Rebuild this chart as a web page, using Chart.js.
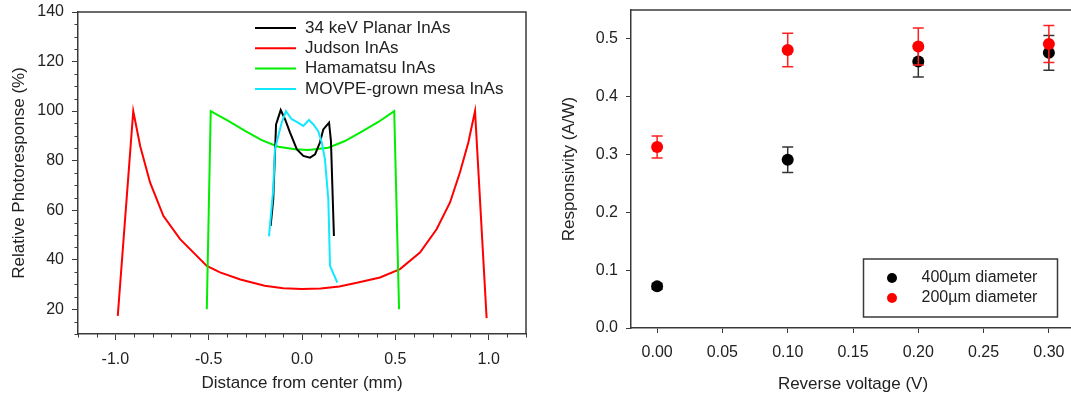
<!DOCTYPE html>
<html><head><meta charset="utf-8">
<script src="https://cdn.jsdelivr.net/npm/chart.js@4.4.0/dist/chart.umd.min.js"></script>
<style>
html,body{margin:0;padding:0;background:#fff;overflow:hidden;width:1071px;height:400px;}
#c1{position:absolute;left:0;top:0;width:540px;height:400px;}
#c2{position:absolute;left:540px;top:0;width:570px;height:400px;}
</style></head><body>
<canvas id="c1" width="540" height="400"></canvas>
<canvas id="c2" width="570" height="400"></canvas>
<script>
// ---------- Left chart data ----------
const seriesNames = ['34 keV Planar InAs', 'Judson InAs', 'Hamamatsu InAs', 'MOVPE-grown mesa InAs'];
const planarX = [-0.168,-0.154,-0.139,-0.114,-0.091,-0.064,-0.028,0.007,0.043,0.070,0.096,0.114,0.145,0.155,0.171];
const planarY = [53.6,64.4,94.6,100.4,96.7,91.3,84.6,81.9,81.2,82.5,87.3,92.6,95.3,88,49.6];
const judsonX = [-0.987,-0.904,-0.867,-0.814,-0.743,-0.653,-0.51,-0.439,-0.33,-0.2,-0.1,0,0.1,0.2,0.3,0.418,0.525,0.632,0.721,0.793,0.846,0.891,0.927,0.989];
const judsonY = [17.3,100,85.9,71.2,57.7,48.3,37.5,34.9,32,29.5,28.5,28.2,28.4,29.2,30.8,32.8,36.2,42.9,52.3,63.1,75.2,87.3,100,16.4];
const hamaX = [-0.510,-0.489,-0.395,-0.305,-0.216,-0.127,-0.037,0.034,0.141,0.230,0.320,0.409,0.494,0.520];
const hamaY = [20,100,96,92,88.3,85.6,84.6,84.3,85.2,87.9,91.7,95.6,100,20];
const movpeX = [-0.177,-0.154,-0.145,-0.109,-0.086,-0.055,-0.028,0.007,0.037,0.061,0.087,0.106,0.123,0.141,0.150,0.189];
const movpeY = [49.4,68.4,84.6,95.3,100,96.7,95.6,94,96.4,94.6,91.9,87.3,80.5,64.4,37.5,30.8];
const leftXTicks = [-1.0,-0.5,0.0,0.5,1.0];
const leftYTicks = [20,40,60,80,100,120,140];

// ---------- Right chart data ----------
const voltage = [0.00, 0.10, 0.20, 0.30];
const resp400 = [0.072, 0.291, 0.461, 0.476];
const err400 = [0.005, 0.022, 0.027, 0.030];
const resp200 = [0.313, 0.481, 0.487, 0.491];
const err200 = [0.019, 0.029, 0.032, 0.032];
const rightNames = ['400\u00b5m diameter', '200\u00b5m diameter'];
const rightXTicks = [0.00,0.05,0.10,0.15,0.20,0.25,0.30];
const rightYTicks = [0.0,0.1,0.2,0.3,0.4,0.5];

const FONT = "'Liberation Sans', Arial, Helvetica, sans-serif";
const TXT = '#222';
const AXC = '#3a3a3a';
Chart.defaults.font.family = FONT;
Chart.defaults.color = TXT;

function pts(xs, ys){ return xs.map((x,i)=>({x:x, y:ys[i]})); }

const framePlugin = {
  id:'frame',
  beforeDatasetsDraw(chart, args, opts){
    const a = chart.chartArea, ctx = chart.ctx;
    ctx.save(); ctx.strokeStyle = AXC; ctx.lineWidth = 1.5;
    ctx.beginPath();
    ctx.moveTo(a.left, a.top); ctx.lineTo(a.right, a.top);
    if (opts.right) { ctx.lineTo(a.right, a.bottom); }
    ctx.stroke(); ctx.restore();
  }
};

const minorPlugin = {
  id:'minor',
  afterDraw(chart, args, opts){
    if (!opts.enabled) return;
    const ctx = chart.ctx, a = chart.chartArea, xs = chart.scales.x, ys = chart.scales.y;
    ctx.save(); ctx.strokeStyle = AXC; ctx.lineWidth = 1;
    ctx.beginPath();
    for (let k = Math.round(xs.min*10); k <= Math.round(xs.max*10); k++) {
      if (k % 5 === 0) continue;
      const px = Math.round(xs.getPixelForValue(k/10)) + 0.5;
      ctx.moveTo(px, a.bottom); ctx.lineTo(px, a.bottom + 3.5);
    }
    for (let v = ys.min; v <= ys.max; v += 5) {
      if (v % 20 === 0) continue;
      const py = Math.round(ys.getPixelForValue(v)) + 0.5;
      ctx.moveTo(a.left, py); ctx.lineTo(a.left - 3.5, py);
    }
    ctx.stroke(); ctx.restore();
  }
};

const legendLines = {
  id:'legendLines',
  afterDraw(chart){
    const ctx = chart.ctx;
    ctx.save();
    ctx.font = '17px ' + FONT; ctx.textBaseline = 'middle'; ctx.textAlign = 'left';
    chart.data.datasets.forEach((ds, i) => {
      const y = 28 + i * 20.3;
      ctx.strokeStyle = ds.borderColor; ctx.lineWidth = 2;
      ctx.beginPath(); ctx.moveTo(255, y); ctx.lineTo(296, y); ctx.stroke();
      ctx.fillStyle = TXT; ctx.fillText(ds.label, 305, y);
    });
    ctx.restore();
  }
};

const errorBars = {
  id:'errorBars',
  beforeDatasetDraw(chart, args){
    const ds = chart.data.datasets[args.index];
    if (!ds.errors) return;
    const ctx = chart.ctx, xs = chart.scales.x, ys = chart.scales.y;
    ctx.save(); ctx.strokeStyle = ds.errColor; ctx.lineWidth = 1.5;
    ds.data.forEach((p, i) => {
      const e = ds.errors[i];
      const px = xs.getPixelForValue(p.x);
      const y1 = ys.getPixelForValue(p.y + e), y2 = ys.getPixelForValue(p.y - e);
      ctx.beginPath();
      ctx.moveTo(px, y1); ctx.lineTo(px, y2);
      ctx.moveTo(px - 5.5, y1); ctx.lineTo(px + 5.5, y1);
      ctx.moveTo(px - 5.5, y2); ctx.lineTo(px + 5.5, y2);
      ctx.stroke();
    });
    ctx.restore();
  }
};

const legendDots = {
  id:'legendDots',
  afterDraw(chart){
    const ctx = chart.ctx;
    ctx.save();
    ctx.strokeStyle = AXC; ctx.lineWidth = 1.5;
    ctx.strokeRect(323.5, 259, 194, 58);
    ctx.font = '16px ' + FONT; ctx.textBaseline = 'middle'; ctx.textAlign = 'left';
    chart.data.datasets.forEach((ds, i) => {
      const y = 278 + i * 20;
      ctx.fillStyle = ds.backgroundColor;
      ctx.beginPath(); ctx.arc(352, y, 5, 0, Math.PI*2); ctx.fill();
      ctx.fillStyle = TXT; ctx.fillText(ds.label, 381.5, y);
    });
    ctx.restore();
  }
};

function fixY(w){ return s => { s.width = w; s.paddingTop = 0; s.paddingBottom = 0; }; }
function fixX(h){ return s => { s.height = h; s.paddingLeft = 0; s.paddingRight = 0; }; }
function setTicks(arr){ return a => { a.ticks = arr.map(v => ({value:v})); }; }

// ---------- Left chart ----------
const lineDs = (label, xs, ys, color, order) => ({
  label, data: pts(xs, ys), borderColor: color, backgroundColor: color,
  showLine: true, pointRadius: 0, borderWidth: 2, tension: 0, order
});

new Chart(document.getElementById('c1'), {
  type: 'scatter',
  data: { datasets: [
    lineDs(seriesNames[0], planarX, planarY, '#000000', 1),
    lineDs(seriesNames[1], judsonX, judsonY, '#ff0000', 3),
    lineDs(seriesNames[2], hamaX, hamaY, '#00ee00', 2),
    lineDs(seriesNames[3], movpeX, movpeY, '#11e8ff', 0)
  ]},
  options: {
    responsive: false, animation: false, devicePixelRatio: 1,
    layout: { padding: { top: 12, right: 14, left: 0, bottom: 0 } },
    plugins: { legend: { display: false }, tooltip: { enabled: false }, frame: { right: true }, minor: { enabled: true } },
    scales: {
      x: {
        type: 'linear', min: -1.2, max: 1.2,
        afterBuildTicks: setTicks(leftXTicks), afterFit: fixX(66),
        ticks: { callback: v => v.toFixed(1), font: { size: 16 }, color: TXT, padding: 9.5, maxRotation: 0 },
        grid: { drawOnChartArea: false, tickLength: 6, tickColor: AXC, tickWidth: 1 },
        border: { color: AXC, width: 1.5 },
        title: { display: true, text: 'Distance from center (mm)', font: { size: 17 }, color: TXT, padding: { top: 0, bottom: 6 } }
      },
      y: {
        type: 'linear', min: 10, max: 140,
        afterBuildTicks: setTicks(leftYTicks), afterFit: fixY(78),
        ticks: { callback: v => String(v), font: { size: 16 }, color: TXT, padding: 8 },
        grid: { drawOnChartArea: false, tickLength: 6, tickColor: AXC, tickWidth: 1 },
        border: { color: AXC, width: 1.5 },
        title: { display: true, text: 'Relative Photoresponse (%)', font: { size: 17 }, color: TXT, padding: { top: 9, bottom: 0 } }
      }
    }
  },
  plugins: [framePlugin, minorPlugin, legendLines]
});

// ---------- Right chart ----------
new Chart(document.getElementById('c2'), {
  type: 'scatter',
  data: { datasets: [
    { label: rightNames[0], data: pts(voltage, resp400), errors: err400, errColor: '#333333',
      backgroundColor: '#000000', borderColor: '#000000', pointRadius: 6, borderWidth: 0, order: 1 },
    { label: rightNames[1], data: pts(voltage, resp200), errors: err200, errColor: '#ff2020',
      backgroundColor: '#ff0000', borderColor: '#ff0000', pointRadius: 6, borderWidth: 0, order: 0 }
  ]},
  options: {
    responsive: false, animation: false, devicePixelRatio: 1,
    layout: { padding: { top: 10, right: 35, left: 0, bottom: 0 } },
    plugins: { legend: { display: false }, tooltip: { enabled: false }, frame: { right: false }, minor: { enabled: false } },
    scales: {
      x: {
        type: 'linear', min: -0.02, max: 0.32,
        afterBuildTicks: setTicks(rightXTicks), afterFit: fixX(72),
        ticks: { callback: v => v.toFixed(2), font: { size: 16 }, color: TXT, padding: 10, maxRotation: 0 },
        grid: { drawOnChartArea: false, tickLength: 5, tickColor: AXC, tickWidth: 1 },
        border: { color: AXC, width: 1.5 },
        title: { display: true, text: 'Reverse voltage (V)', font: { size: 17 }, color: TXT, padding: { top: 0, bottom: 5 } }
      },
      y: {
        type: 'linear', min: 0, max: 0.55,
        afterBuildTicks: setTicks(rightYTicks), afterFit: fixY(91),
        ticks: { callback: v => v.toFixed(1), font: { size: 16 }, color: TXT, padding: 8 },
        grid: { drawOnChartArea: false, tickLength: 5, tickColor: AXC, tickWidth: 1 },
        border: { color: AXC, width: 1.5 },
        title: { display: true, text: 'Responsivity (A/W)', font: { size: 17 }, color: TXT, padding: { top: 19, bottom: 0 } }
      }
    }
  },
  plugins: [framePlugin, errorBars, legendDots]
});
</script>
</body></html>
